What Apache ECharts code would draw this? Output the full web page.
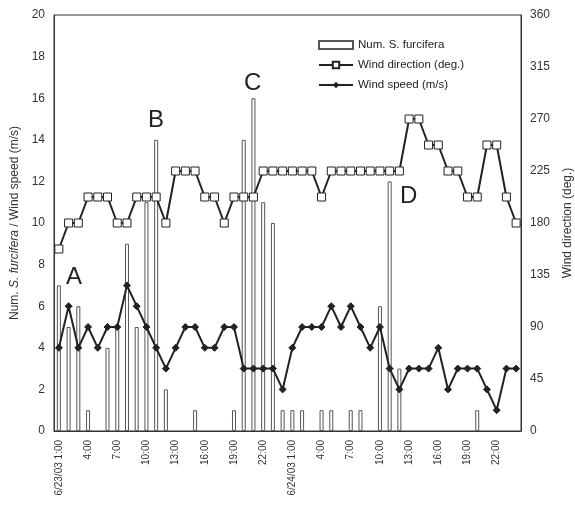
<!DOCTYPE html>
<html>
<head>
<meta charset="utf-8">
<script src="https://cdn.jsdelivr.net/npm/echarts@6/dist/echarts.min.js"></script>
<style>
  html, body { margin: 0; padding: 0; background: #fff; }
  #chart { width: 575px; height: 518px; }
</style>
</head>
<body>
<div id="chart"></div>
<script>
// hourly categories, 6/23/03 1:00 .. 6/25/03 0:00
const hours = [
  '6/23/03 1:00', '2:00', '3:00', '4:00', '5:00', '6:00', '7:00', '8:00',
  '9:00', '10:00', '11:00', '12:00', '13:00', '14:00', '15:00', '16:00',
  '17:00', '18:00', '19:00', '20:00', '21:00', '22:00', '23:00', '0:00',
  '6/24/03 1:00', '2:00', '3:00', '4:00', '5:00', '6:00', '7:00', '8:00',
  '9:00', '10:00', '11:00', '12:00', '13:00', '14:00', '15:00', '16:00',
  '17:00', '18:00', '19:00', '20:00', '21:00', '22:00', '23:00', '0:00'
];

// Num. S. furcifera
const numFurcifera = [
  7, 5, 6, 1, 0, 4, 5, 9, 5, 11, 14, 2, 0, 0, 1, 0, 0, 0, 1, 14, 16, 11, 10, 1,
  1, 1, 0, 1, 1, 0, 1, 1, 0, 6, 12, 3, 0, 0, 0, 0, 0, 0, 0, 1, 0, 0, 0, 0
];

// wind direction (deg.)
const windDir = [
  157.5, 180, 180, 202.5, 202.5, 202.5, 180, 180, 202.5, 202.5, 202.5, 180,
  225, 225, 225, 202.5, 202.5, 180, 202.5, 202.5, 202.5, 225, 225, 225,
  225, 225, 225, 202.5, 225, 225, 225, 225, 225, 225, 225, 225,
  270, 270, 247.5, 247.5, 225, 225, 202.5, 202.5, 247.5, 247.5, 202.5, 180
];

// wind speed (m/s)
const windSpeed = [
  4, 6, 4, 5, 4, 5, 5, 7, 6, 5, 4, 3, 4, 5, 5, 4, 4, 5, 5, 3, 3, 3, 3, 2,
  4, 5, 5, 5, 6, 5, 6, 5, 4, 5, 3, 2, 3, 3, 3, 4, 2, 3, 3, 3, 2, 1, 3, 3
];

const font = '"Liberation Sans", Arial, sans-serif';
const ink = '#222';

const chart = echarts.init(document.getElementById('chart'));
chart.setOption({
  animation: false,
  textStyle: { fontFamily: font, color: ink },
  grid: {
    left: 54, right: 54, top: 15, bottom: 87,
    outerBoundsMode: 'none',
    show: true, borderColor: '#333', borderWidth: 1, backgroundColor: '#fff'
  },
  legend: {
    orient: 'vertical',
    left: 313,
    top: 34,
    itemWidth: 34,
    itemHeight: 8,
    itemGap: 8,
    backgroundColor: '#fff',
    textStyle: { fontSize: 11.5, color: ink, fontFamily: font },
    data: [
      { name: 'Num. S. furcifera', icon: 'rect' },
      'Wind direction (deg.)',
      'Wind speed (m/s)'
    ]
  },
  xAxis: {
    type: 'category',
    data: hours,
    boundaryGap: true,
    axisLine: { lineStyle: { color: '#333' } },
    axisTick: { show: false },
    axisLabel: {
      interval: 2,
      rotate: 90,
      fontSize: 10,
      color: '#333',
      margin: 9
    }
  },
  yAxis: [
    {
      type: 'value',
      min: 0, max: 20, interval: 2,
      name: '{t|Num. }{i|S. furcifera}{t| / Wind speed (m/s)}',
      nameLocation: 'middle',
      nameGap: 24,
      nameTextStyle: {
        rich: {
          t: { fontSize: 12, color: '#333', fontFamily: font },
          i: { fontSize: 12, color: '#333', fontFamily: font, fontStyle: 'italic' }
        }
      },
      axisLine: { show: true, lineStyle: { color: '#333' } },
      axisTick: { show: false },
      splitLine: { show: false },
      axisLabel: { fontSize: 12, color: '#333', margin: 9 }
    },
    {
      type: 'value',
      min: 0, max: 360, interval: 45,
      name: 'Wind direction (deg.)',
      nameLocation: 'middle',
      nameGap: 41,
      nameRotate: 90,
      nameTextStyle: { fontSize: 12, color: '#333' },
      axisLine: { show: true, lineStyle: { color: '#333' } },
      axisTick: { show: false },
      splitLine: { show: false },
      axisLabel: { fontSize: 12, color: '#333', margin: 9 }
    }
  ],
  series: [
    {
      name: 'Num. S. furcifera',
      type: 'bar',
      // empty hours draw no bar
      data: numFurcifera.map(v => (v === 0 ? null : v)),
      barWidth: 4,
      itemStyle: { color: '#fff', borderColor: '#555', borderWidth: 1 }
    },
    {
      name: 'Wind direction (deg.)',
      type: 'line',
      yAxisIndex: 1,
      data: windDir,
      symbol: 'rect',
      symbolSize: 8,
      showAllSymbol: true,
      lineStyle: { color: ink, width: 2 },
      itemStyle: { color: '#fff', borderColor: ink, borderWidth: 1 }
    },
    {
      name: 'Wind speed (m/s)',
      type: 'line',
      data: windSpeed,
      symbol: 'diamond',
      symbolSize: 7,
      showAllSymbol: true,
      lineStyle: { color: ink, width: 2 },
      itemStyle: { color: ink, borderColor: ink }
    }
  ],
  graphic: [
    { type: 'text', left: 66, top: 265, style: { text: 'A', font: '24px ' + font, fill: ink } },
    { type: 'text', left: 148, top: 108, style: { text: 'B', font: '24px ' + font, fill: ink } },
    { type: 'text', left: 244, top: 71, style: { text: 'C', font: '24px ' + font, fill: ink } },
    { type: 'text', left: 400, top: 184, style: { text: 'D', font: '24px ' + font, fill: ink } }
  ]
});
</script>
</body>
</html>
